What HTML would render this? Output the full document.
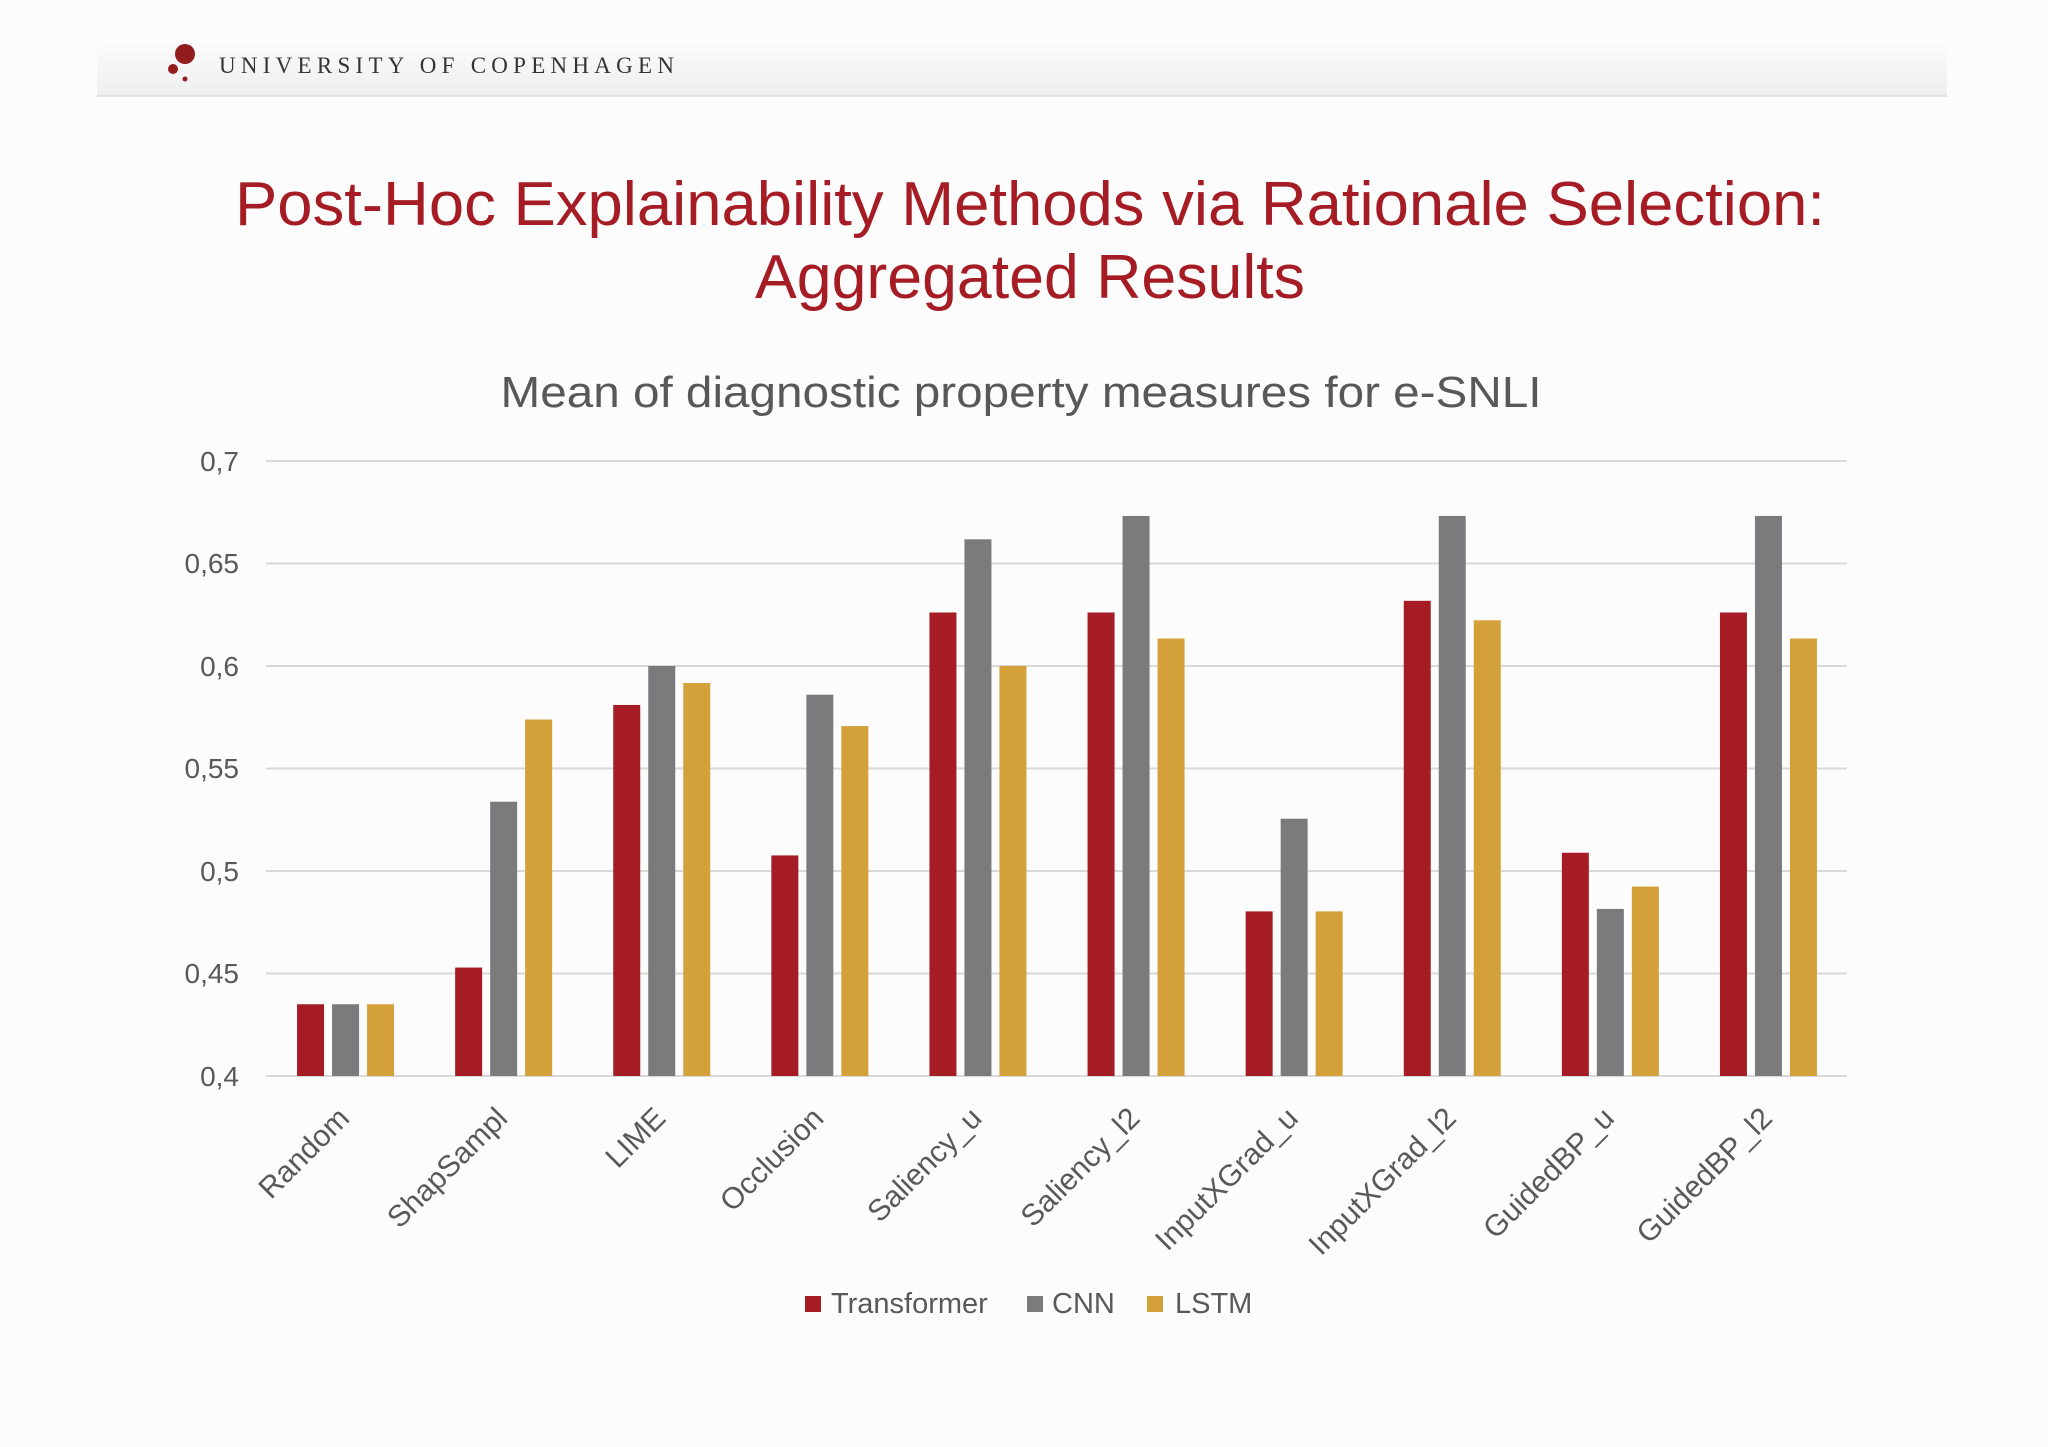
<!DOCTYPE html>
<html><head><meta charset="utf-8"><style>
html,body{margin:0;padding:0;background:#fdfcfc;}
svg{display:block;}
</style></head><body>
<svg width="2048" height="1447" viewBox="0 0 2048 1447" xmlns="http://www.w3.org/2000/svg">
<defs>
<linearGradient id="hd" x1="0" y1="0" x2="0" y2="1">
<stop offset="0" stop-color="#fdfdfd"/><stop offset="1" stop-color="#eeeeee"/>
</linearGradient>
</defs>
<rect width="2048" height="1447" fill="#fdfcfc"/>
<rect x="97" y="36" width="1850" height="60" fill="url(#hd)"/>
<line x1="97" y1="96" x2="1947" y2="96" stroke="#dcdcdc" stroke-width="1.5"/>
<circle cx="185" cy="54" r="10" fill="#931c1f"/>
<circle cx="173" cy="69" r="5" fill="#931c1f"/>
<circle cx="185" cy="79" r="2.5" fill="#931c1f"/>
<text x="219" y="73" font-family="Liberation Serif, serif" font-size="23" fill="#333" textLength="455" lengthAdjust="spacing">UNIVERSITY OF COPENHAGEN</text>

<g font-family="Liberation Sans, sans-serif" fill="#a51c24" font-size="62" text-anchor="middle">
<text x="1030" y="225" textLength="1590" lengthAdjust="spacingAndGlyphs">Post-Hoc Explainability Methods via Rationale Selection:</text>
<text x="1030" y="298" textLength="550" lengthAdjust="spacingAndGlyphs">Aggregated Results</text>
</g>
<text x="1021" y="407" font-family="Liberation Sans, sans-serif" font-size="44" fill="#585858" text-anchor="middle" textLength="1041" lengthAdjust="spacingAndGlyphs">Mean of diagnostic property measures for e-SNLI</text>

<g stroke="#d9d9d9" stroke-width="2">
<line x1="266" y1="461" x2="1847" y2="461"/>
<line x1="266" y1="563.5" x2="1847" y2="563.5"/>
<line x1="266" y1="666" x2="1847" y2="666"/>
<line x1="266" y1="768.5" x2="1847" y2="768.5"/>
<line x1="266" y1="871" x2="1847" y2="871"/>
<line x1="266" y1="973.5" x2="1847" y2="973.5"/>
<line x1="266" y1="1076" x2="1847" y2="1076"/>
</g>
<g font-family="Liberation Sans, sans-serif" font-size="28" fill="#595959" text-anchor="end">
<text x="239" y="471">0,7</text>
<text x="239" y="573">0,65</text>
<text x="239" y="676">0,6</text>
<text x="239" y="778">0,55</text>
<text x="239" y="881">0,5</text>
<text x="239" y="983">0,45</text>
<text x="239" y="1086">0,4</text>
</g>
<g id="bars"></g>
<g id="xl" font-family="Liberation Sans, sans-serif" font-size="30" fill="#595959" text-anchor="end"></g>

<g font-family="Liberation Sans, sans-serif" font-size="29" fill="#595959">
<rect x="805" y="1296" width="16" height="16" fill="#a51c24"/>
<text x="831" y="1313">Transformer</text>
<rect x="1027" y="1296" width="16" height="16" fill="#7b7a7c"/>
<text x="1052" y="1313">CNN</text>
<rect x="1147" y="1296" width="16" height="16" fill="#d4a03a"/>
<text x="1175" y="1313">LSTM</text>
</g>
</svg>
<script>
var data=[["Random",.435,.435,.435],["ShapSampl",.4529,.5338,.5739],["LIME",.581,.6,.5917],["Occlusion",.5076,.586,.5707],["Saliency_u",.6261,.6618,.6],["Saliency_l2",.6261,.6732,.6134],["InputXGrad_u",.4803,.5255,.4803],["InputXGrad_l2",.6318,.6732,.6223],["GuidedBP_u",.5089,.4815,.4924],["GuidedBP_l2",.6261,.6732,.6134]];
var cols=["#a51c24","#7b7a7c","#d4a03a"],offs=[-48,-13,22];
var ns="http://www.w3.org/2000/svg",b=document.getElementById("bars"),xl=document.getElementById("xl");
function y(v){return 1076-(v-0.4)/0.05*102.5;}
data.forEach(function(d,i){var c=266+158.1*(i+0.5);
for(var k=0;k<3;k++){var r=document.createElementNS(ns,"rect");var t=y(d[k+1]);
r.setAttribute("x",c+offs[k]);r.setAttribute("y",t);r.setAttribute("width",27);r.setAttribute("height",1076-t);r.setAttribute("fill",cols[k]);b.appendChild(r);}
var tx=document.createElementNS(ns,"text");var ax=c+6,ay=1120;
tx.setAttribute("x",ax);tx.setAttribute("y",ay);tx.setAttribute("transform","rotate(-45 "+ax+" "+ay+")");tx.textContent=d[0];xl.appendChild(tx);});
</script>
</body></html>
